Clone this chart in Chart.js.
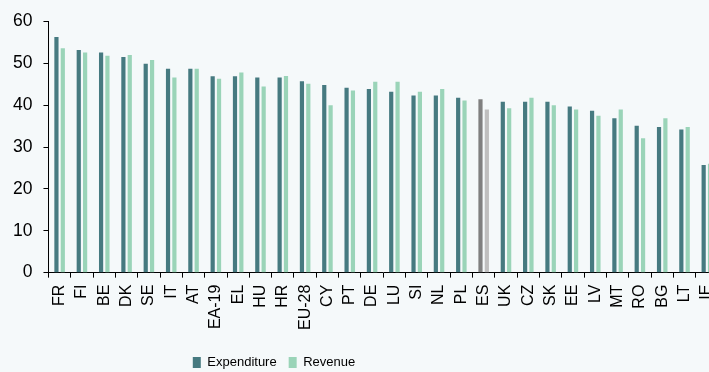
<!DOCTYPE html>
<html>
<head>
<meta charset="utf-8">
<script src="https://cdn.jsdelivr.net/npm/chart.js@4"></script>
<style>
  html, body { margin: 0; padding: 0; background: #f5f9fa; overflow: hidden; }
  #wrap { width: 720px; height: 372px; }
</style>
</head>
<body>
<div id="wrap"><canvas id="grafica"></canvas></div>
<script>
  // Países (orden del gráfico) y valores en % del PIB
  const paises = ['FR','FI','BE','DK','SE','IT','AT','EA-19','EL','HU','HR','EU-28','CY','PT','DE',
                  'LU','SI','NL','PL','ES','UK','CZ','SK','EE','LV','MT','RO','BG','LT','IE'];
  const gasto = [56.3,53.2,52.6,51.5,49.9,48.7,48.7,46.9,46.9,46.6,46.6,45.7,44.8,44.2,43.9,
                 43.2,42.3,42.3,41.8,41.4,40.8,40.8,40.8,39.7,38.7,36.9,35.1,34.8,34.2,25.7];
  const ingreso = [53.6,52.6,51.8,52.0,50.8,46.6,48.7,46.3,47.8,44.5,47.0,45.1,40.0,43.5,45.6,
                   45.6,43.2,43.9,41.1,39.0,39.3,41.8,40.0,39.0,37.5,39.0,32.1,36.9,34.8,26.0];
  const destacado = 'ES';

  const COLOR_GASTO = '#467a80';
  const COLOR_INGRESO = '#9ad4b8';
  const fuente = "'Liberation Sans', Arial, sans-serif";

  const coloresGasto = paises.map(p => p === destacado ? '#808080' : COLOR_GASTO);
  const coloresIngreso = paises.map(p => p === destacado ? '#bfbfbf' : COLOR_INGRESO);

  // Leyenda desplazada (izquierda y abajo) como en el original
  const moverLeyenda = {
    id: 'moverLeyenda',
    afterLayout(chart) {
      const lg = chart.legend;
      if (!lg) return;
      const dx = 86, dy = 7;
      lg.left -= dx; lg.right -= dx;
      lg.top += dy; lg.bottom += dy;
    }
  };

  new Chart(document.getElementById('grafica'), {
    type: 'bar',
    data: {
      labels: paises,
      datasets: [
        { label: 'Expenditure', data: gasto, backgroundColor: coloresGasto, borderWidth: 0,
          categoryPercentage: 0.57, barPercentage: 0.66 },
        { label: 'Revenue', data: ingreso, backgroundColor: coloresIngreso, borderWidth: 0,
          categoryPercentage: 0.57, barPercentage: 0.66 },
      ],
    },
    options: {
      responsive: true, maintainAspectRatio: false, animation: false,
      layout: { padding: { left: 2, right: 2, top: 4, bottom: 0 } },
      plugins: {
        legend: {
          position: 'bottom',
          labels: {
            color: '#000', boxWidth: 8, boxHeight: 11, padding: 12,
            font: { family: fuente, size: 13 },
            generateLabels: (chart) => chart.data.datasets.map((ds, i) => ({
              text: ds.label, fillStyle: i === 0 ? COLOR_GASTO : COLOR_INGRESO,
              strokeStyle: 'transparent', lineWidth: 0, datasetIndex: i,
            })),
          },
        },
        tooltip: { enabled: false },
      },
      scales: {
        x: {
          afterFit: (scale) => {
            // sin relleno extra por las etiquetas giradas
            scale.paddingLeft = 0;
            scale.paddingRight = 0;
          },
          grid: { drawOnChartArea: false, drawTicks: true, tickLength: 5, color: '#000', lineWidth: 1 },
          border: { display: true, color: '#000', width: 1 },
          ticks: { color: '#000', autoSkip: false, minRotation: 90, maxRotation: 90, padding: 7,
                   font: { family: fuente, size: 16 } },
        },
        y: {
          min: 0, max: 60,
          grid: { drawOnChartArea: false, drawTicks: true, tickLength: 5, color: '#000', lineWidth: 1 },
          border: { display: true, color: '#000', width: 1 },
          ticks: { stepSize: 10, color: '#000', padding: 11, font: { family: fuente, size: 17.5 } },
        },
      },
    },
    plugins: [moverLeyenda],
  });
</script>
</body>
</html>
